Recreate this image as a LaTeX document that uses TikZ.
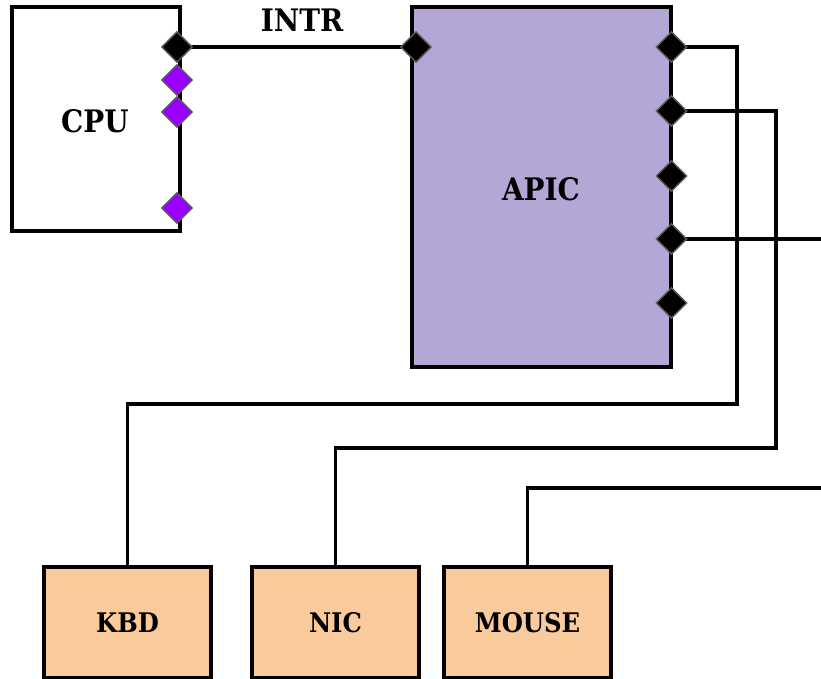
\documentclass[tikz,border=0pt]{standalone}
\usepackage{fontspec}
\setmainfont{DejaVu Serif Condensed}
\usepackage{tikz}
\usetikzlibrary{positioning,calc,shapes.geometric}
\definecolor{ApicPurple}{HTML}{B4A7D6}
\definecolor{DevOrange}{HTML}{F9CB9C}
\definecolor{PinPurple}{HTML}{9900FF}
\definecolor{PinRim}{HTML}{5A5A5A}
\tikzset{
  chip/.style={draw=black,line width=3.2pt,inner sep=0pt},
  lbl/.style={font=\bfseries\fontsize{31}{36}\selectfont},
  dev/.style={draw=black,line width=3.2pt,fill=DevOrange,inner sep=0pt,
    minimum width=167pt,minimum height=111pt,font=\bfseries\fontsize{27}{32}\selectfont},
  pin/.style={diamond,draw=PinRim,fill=black,line width=1.4pt,inner sep=0pt,minimum size=31pt},
  ppin/.style={pin,fill=PinPurple},
  wire/.style={draw=black,line width=3.2pt},
}
\begin{document}
\begin{tikzpicture}[x=1pt,y=-1pt]
\useasboundingbox (0,0) rectangle (821,679);
% chips
\node[chip,fill=white,minimum width=168pt,minimum height=224pt] (cpu) at (96,119) {};
\node[lbl] (cpul) at (95,121) {CPU};
\node[chip,fill=ApicPurple,minimum width=259pt,minimum height=360pt] (apic) at (541.5,187) {};
\node[lbl] (apicl) at (541,189) {APIC};
% devices
\node[dev] (kbd) at (127.5,622.5) {KBD};
\node[dev] (nic) at (335.5,622.5) {NIC};
\node[dev] (mouse) at (527.5,622.5) {MOUSE};
% wires
\coordinate (out3) at (821,239);
\coordinate (in4) at (821,488);
\draw[wire] (177,47) -- (416,47);
\node[lbl] (intr) at (302,20) {INTR};
\draw[wire] (671,47) -| (737,404) -| (kbd.north);
\draw[wire] (671,111) -| (776,448) -| (nic.north);
\draw[wire] (671,239) -- (out3);
\draw[wire] (in4) -| (mouse.north);
% pins
\node[pin] (c1) at (177,47) {};
\node[ppin] (c2) at (177,80) {};
\node[ppin] (c3) at (177,112) {};
\node[ppin] (c4) at (177,208) {};
\node[pin] (a0) at (416,47) {};
\foreach \y [count=\i] in {47,111,176,239,303}
  \node[pin] (a\i) at (671.5,\y) {};
\end{tikzpicture}
\end{document}
